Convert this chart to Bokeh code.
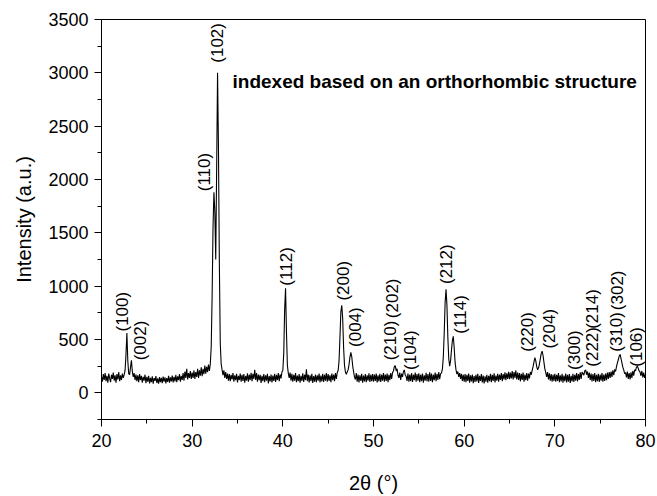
import numpy as np
from bokeh.plotting import figure
from bokeh.models import SingleIntervalTicker, Range1d, Label, ColumnDataSource
from bokeh.core.properties import value
from bokeh.embed import file_html
from bokeh.resources import INLINE

# 2theta sampling grid (degrees), step 0.1
two_theta = [round(20 + 0.1 * i, 1) for i in range(601)]

# Intensity, 10 degrees per block
int_20_30 = [150, 105, 175, 120, 185, 110, 160, 95, 180, 135,
             100, 170, 130, 190, 115, 165, 95, 175, 125, 195,
             110, 165, 120, 180, 140, 170, 210, 360, 560, 300,
             180, 170, 240, 305, 200, 150, 185, 120, 170, 110,
             165, 100, 175, 120, 160, 95, 150, 115, 170, 90,
             150, 105, 160, 88, 140, 100, 155, 85, 138, 112,
             158, 92, 135, 85, 148, 100, 140, 90, 152, 105,
             145, 88, 138, 102, 160, 95, 145, 108, 162, 98,
             150, 108, 168, 100, 155, 118, 175, 105, 160, 122,
             185, 115, 200, 140, 225, 125, 185, 140, 205, 130]
int_30_40 = [190, 140, 210, 130, 195, 150, 225, 140, 210, 160,
             240, 155, 225, 175, 255, 180, 245, 195, 265, 205,
             270, 430, 900, 1550, 1880, 1700, 1250, 2100, 3000, 2300,
             1200, 460, 270, 215, 165, 210, 140, 195, 130, 180,
             115, 175, 110, 168, 125, 185, 105, 165, 118, 178,
             98, 160, 120, 180, 105, 168, 112, 175, 95, 158,
             115, 182, 105, 170, 120, 188, 110, 178, 130, 215,
             120, 185, 105, 172, 118, 168, 92, 160, 110, 175,
             100, 165, 115, 178, 88, 158, 108, 172, 98, 162,
             112, 178, 102, 168, 120, 185, 110, 172, 135, 195]
int_40_50 = [210, 370, 780, 980, 570, 260, 185, 140, 190, 115,
             178, 105, 168, 115, 185, 100, 162, 110, 175, 95,
             160, 112, 182, 102, 170, 120, 220, 110, 172, 98,
             165, 110, 178, 92, 158, 105, 172, 100, 165, 115,
             180, 98, 162, 108, 178, 102, 170, 115, 185, 105,
             175, 112, 165, 100, 180, 118, 172, 110, 185, 130,
             190, 210, 300, 520, 760, 820, 700, 430, 260, 195,
             175, 195, 215, 265, 335, 380, 340, 255, 200, 150,
             125, 185, 105, 172, 98, 165, 112, 178, 95, 162,
             108, 175, 100, 165, 115, 182, 102, 170, 110, 175]
int_50_60 = [105, 172, 112, 180, 98, 165, 108, 178, 102, 170,
             115, 185, 105, 172, 112, 180, 100, 168, 118, 185,
             130, 190, 205, 245, 255, 205, 225, 165, 140, 190,
             120, 180, 150, 200, 215, 165, 155, 112, 180, 105,
             172, 110, 185, 102, 170, 118, 190, 105, 175, 115,
             182, 100, 170, 110, 180, 95, 165, 115, 188, 108,
             175, 105, 192, 112, 180, 100, 170, 118, 190, 110,
             178, 122, 195, 128, 180, 185, 225, 335, 560, 850,
             970, 820, 520, 320, 250, 300, 400, 490, 530, 420,
             285, 215, 175, 200, 150, 185, 130, 178, 112, 170]
int_60_70 = [105, 175, 100, 168, 112, 180, 95, 165, 108, 172,
             90, 158, 102, 170, 108, 178, 92, 160, 112, 175,
             98, 162, 88, 155, 105, 170, 95, 160, 110, 178,
             100, 168, 112, 182, 98, 162, 115, 178, 105, 172,
             120, 185, 110, 175, 125, 192, 118, 182, 130, 198,
             128, 190, 135, 205, 125, 195, 140, 210, 125, 190,
             120, 185, 108, 178, 122, 190, 105, 172, 118, 185,
             115, 180, 135, 195, 170, 210, 245, 290, 330, 300,
             245, 215, 235, 270, 320, 370, 390, 350, 285, 225,
             190, 150, 195, 125, 182, 115, 175, 105, 170, 112]
int_70_80 = [178, 105, 170, 112, 185, 100, 165, 108, 178, 95,
             162, 110, 180, 98, 168, 105, 175, 92, 160, 108,
             178, 102, 170, 115, 185, 108, 175, 122, 192, 130,
             195, 180, 165, 205, 215, 170, 200, 140, 190, 120,
             180, 108, 175, 112, 185, 100, 168, 110, 178, 102,
             170, 115, 185, 105, 172, 112, 180, 118, 190, 130,
             195, 140, 200, 150, 210, 165, 220, 200, 245, 280,
             310, 345, 360, 320, 280, 240, 215, 180, 190, 145,
             200, 130, 185, 125, 192, 140, 205, 160, 215, 205,
             240, 250, 230, 205, 195, 160, 205, 145, 190, 140,
             175]

intensity = int_20_30 + int_30_40 + int_40_50 + int_50_60 + int_60_70 + int_70_80

# Miller-index labels and where they sit (2theta centre, intensity at text start)
hkl_text = ["(100)", "(002)", "(110)", "(102)", "(112)", "(200)", "(004)",
            "(210)", "(202)", "(104)", "(212)", "(114)", "(220)", "(204)",
            "(300)", "(222)", "(214)", "(310)", "(302)", "(106)"]
hkl_x = [22.3, 24.3, 31.4, 32.75, 40.4, 46.7, 48.0,
         51.85, 52.05, 54.05, 58.05, 59.55, 67.0, 69.4,
         72.15, 74.2, 74.1, 76.85, 76.95, 79.05]
hkl_y = [575, 305, 1890, 3095, 1005, 865, 430,
         305, 700, 215, 1020, 555, 385, 415,
         215, 245, 600, 385, 775, 245]

FONT = "Liberation Sans"

p = figure(width=657, height=496, output_backend="svg", toolbar_location=None,
           x_range=Range1d(20, 80), y_range=Range1d(-250, 3500),
           min_border_left=101, min_border_right=12, min_border_top=19,
           min_border_bottom=73)
p.background_fill_color = "white"
p.border_fill_color = "white"
p.outline_line_color = "black"
p.outline_line_width = 1
p.outline_line_alpha = 1
p.xgrid.visible = False
p.ygrid.visible = False

p.line(two_theta, intensity, line_color="black", line_width=1.1)

src = ColumnDataSource(dict(x=hkl_x, y=hkl_y, t=hkl_text))
p.text(x="x", y="y", text="t", source=src, angle=np.pi / 2,
       text_align="left", text_baseline="middle",
       text_font=value(FONT), text_font_size="17px", text_color="black")

p.add_layout(Label(x=34.45, y=2915, text="indexed based on an orthorhombic structure",
                   text_font=FONT, text_font_size="19px", text_font_style="bold",
                   text_baseline="middle", text_align="left", text_color="black"))

p.xaxis.ticker = SingleIntervalTicker(interval=10, num_minor_ticks=2)
p.yaxis.ticker = SingleIntervalTicker(interval=500, num_minor_ticks=2)
p.xaxis.axis_label = "2θ (°)"
p.yaxis.axis_label = "Intensity (a.u.)"
for ax in (p.xaxis, p.yaxis):
    ax.axis_line_color = "black"
    ax.axis_line_width = 1
    ax.major_tick_line_color = "black"
    ax.minor_tick_line_color = "black"
    ax.major_tick_in = 0
    ax.major_tick_out = 7
    ax.minor_tick_in = 0
    ax.minor_tick_out = 4
    ax.major_label_text_font = FONT
    ax.major_label_text_font_size = "18px"
    ax.major_label_text_color = "black"
    ax.axis_label_text_font = FONT
    ax.axis_label_text_font_style = "normal"
    ax.axis_label_text_color = "black"
p.xaxis.major_label_standoff = 7
p.yaxis.major_label_standoff = 6
p.xaxis.axis_label_text_font_size = "20px"
p.yaxis.axis_label_text_font_size = "20px"
p.xaxis.axis_label_standoff = 22
p.yaxis.axis_label_standoff = 10
p.yaxis.major_label_orientation = "horizontal"

open("out.html", "w").write(file_html(p, INLINE))
